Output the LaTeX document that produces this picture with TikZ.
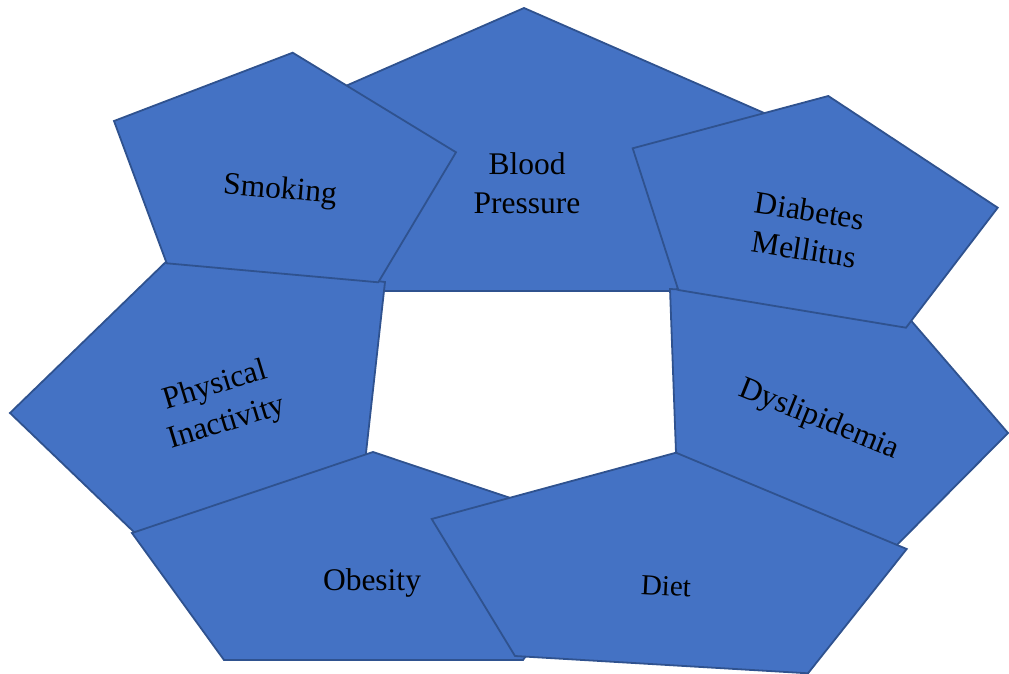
\documentclass[tikz,border=0pt]{standalone}
\usepackage{fontspec}
\setmainfont{Liberation Serif}
\definecolor{pentblue}{HTML}{4472C4}
\definecolor{pentedge}{HTML}{2F528F}
\begin{document}
\begin{tikzpicture}[x=1pt,y=-1pt,
  pent/.style={fill=pentblue, draw=pentedge, line width=1.8pt},
  lbl/.style={font=\fontsize{31.5}{39}\selectfont, align=center, inner sep=0pt, text=black}]
\useasboundingbox (0,0) rectangle (1009,674);
% Blood Pressure
\draw[pent] (524,8) -- (771,116) -- (676,291) -- (372,291) -- (277,116) -- cycle;
% Dyslipidemia
\draw[pent] (670,289) -- (895,302) -- (1008,433) -- (880,562) -- (676,453) -- cycle;
% Diabetes Mellitus
\draw[pent] (632.7,148.3) -- (828.3,96) -- (997.7,207.7) -- (906,327.7) -- (678.3,290) -- cycle;
% Physical Inactivity
\draw[pent] (10,413) -- (172,256) -- (385,282) -- (365,462) -- (136,534) -- cycle;
% Smoking
\draw[pent] (114,121) -- (292.7,52.7) -- (456,152.3) -- (378.3,282.3) -- (166.7,263.3) -- cycle;
% Obesity
\draw[pent] (373,452) -- (615,533) -- (523,660) -- (224,660) -- (132,533) -- cycle;
% Diet
\draw[pent] (431.7,519) -- (676,452.7) -- (906.7,549) -- (808,673.3) -- (515,656) -- cycle;

\node[lbl] (tbp) at (527,183) {Blood\\Pressure};
\node[lbl, rotate=-5] (tsm) at (280,191) {Smoking};
\node[lbl, rotate=-9] (tdm) at (807,230) {Diabetes\\Mellitus};
\node[lbl, rotate=17] (tpi) at (221,405) {Physical\\Inactivity};
\node[lbl, rotate=-22] (tdy) at (819,420) {Dyslipidemia};
\node[lbl] (tob) at (372,583) {Obesity};
\node[lbl, rotate=-3, font=\fontsize{29}{35}\selectfont] (tdi) at (666,586) {Diet};
\end{tikzpicture}
\end{document}
